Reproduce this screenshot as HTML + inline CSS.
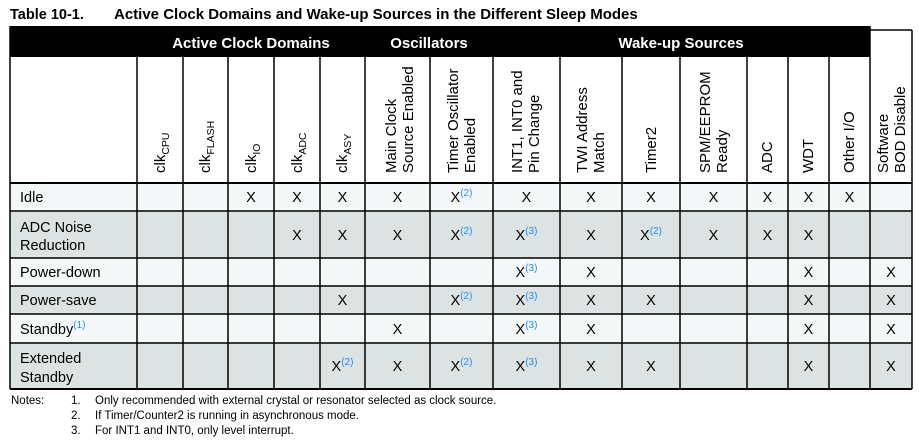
<!DOCTYPE html>
<html><head><meta charset="utf-8"><style>
html,body{margin:0;padding:0;background:#fff;}
svg{display:block;font-family:"Liberation Sans",Arial,sans-serif;}
.h{font-size:15px;fill:#000;}
.c{font-size:14.5px;fill:#000;text-anchor:middle;}
.s{font-size:10px;fill:#1e90ff;}
.l{font-size:14.5px;fill:#000;}
.n{font-size:11.5px;fill:#000;}
</style></head><body>
<svg width="919" height="442" viewBox="0 0 919 442" xmlns="http://www.w3.org/2000/svg">
<text x="10" y="19" font-size="14.5" font-weight="bold">Table 10-1.</text>
<text x="114" y="19" font-size="15" font-weight="bold">Active Clock Domains and Wake-up Sources in the Different Sleep Modes</text>
<rect x="10" y="57" width="902" height="126" fill="#fff"/>
<rect x="10" y="183" width="902" height="28" fill="#f5f8f9"/>
<rect x="10" y="211" width="902" height="47" fill="#dce3e2"/>
<rect x="10" y="258" width="902" height="28" fill="#f5f8f9"/>
<rect x="10" y="286" width="902" height="28" fill="#dce3e2"/>
<rect x="10" y="314" width="902" height="29" fill="#f5f8f9"/>
<rect x="10" y="343" width="902" height="46" fill="#dce3e2"/>
<rect x="10" y="26" width="860" height="31" fill="#000"/>
<text x="251" y="48" font-size="15" font-weight="bold" fill="#fff" text-anchor="middle">Active Clock Domains</text>
<text x="429" y="48" font-size="15" font-weight="bold" fill="#fff" text-anchor="middle">Oscillators</text>
<text x="681" y="48" font-size="15" font-weight="bold" fill="#fff" text-anchor="middle">Wake-up Sources</text>
<g stroke="#000" stroke-width="1.5" fill="none">
<line x1="870" y1="30" x2="912" y2="30"/>
<line x1="912" y1="30" x2="912" y2="389"/>
<line x1="10" y1="26" x2="10" y2="389"/>
<line x1="870" y1="26" x2="870" y2="389"/>
<line x1="10" y1="183" x2="912" y2="183" stroke-width="2"/>
<line x1="10" y1="211" x2="912" y2="211"/>
<line x1="10" y1="258" x2="912" y2="258"/>
<line x1="10" y1="286" x2="912" y2="286"/>
<line x1="10" y1="314" x2="912" y2="314"/>
<line x1="10" y1="343" x2="912" y2="343"/>
<line x1="10" y1="389" x2="912" y2="389" stroke-width="2"/>
<line x1="137" y1="57" x2="137" y2="389"/><line x1="183" y1="57" x2="183" y2="389"/>
<line x1="228" y1="57" x2="228" y2="389"/><line x1="274" y1="57" x2="274" y2="389"/>
<line x1="320" y1="57" x2="320" y2="389"/><line x1="365" y1="57" x2="365" y2="389"/>
<line x1="430" y1="57" x2="430" y2="389"/><line x1="493" y1="57" x2="493" y2="389"/>
<line x1="560" y1="57" x2="560" y2="389"/><line x1="622" y1="57" x2="622" y2="389"/>
<line x1="680" y1="57" x2="680" y2="389"/><line x1="747" y1="57" x2="747" y2="389"/>
<line x1="788" y1="57" x2="788" y2="389"/><line x1="829" y1="57" x2="829" y2="389"/>
</g>
<g class="h">
<text transform="translate(165,173) rotate(-90)">clk<tspan font-size="10.5" dy="4">CPU</tspan></text>
<text transform="translate(210,173) rotate(-90)">clk<tspan font-size="10.5" dy="4">FLASH</tspan></text>
<text transform="translate(256,173) rotate(-90)">clk<tspan font-size="10.5" dy="4">IO</tspan></text>
<text transform="translate(302,173) rotate(-90)">clk<tspan font-size="10.5" dy="4">ADC</tspan></text>
<text transform="translate(347,173) rotate(-90)">clk<tspan font-size="10.5" dy="4">ASY</tspan></text>
<text transform="translate(396,173) rotate(-90)">Main Clock</text>
<text transform="translate(413,173) rotate(-90)">Source Enabled</text>
<text transform="translate(458,173) rotate(-90)">Timer Oscillator</text>
<text transform="translate(475,173) rotate(-90)">Enabled</text>
<text transform="translate(522,173) rotate(-90)">INT1, INT0 and</text>
<text transform="translate(539,173) rotate(-90)">Pin Change</text>
<text transform="translate(587,173) rotate(-90)">TWI Address</text>
<text transform="translate(604,173) rotate(-90)">Match</text>
<text transform="translate(656,173) rotate(-90)">Timer2</text>
<text transform="translate(710,173) rotate(-90)">SPM/EEPROM</text>
<text transform="translate(727,173) rotate(-90)">Ready</text>
<text transform="translate(772,173) rotate(-90)">ADC</text>
<text transform="translate(813,173) rotate(-90)">WDT</text>
<text transform="translate(854,173) rotate(-90)">Other I/O</text>
<text transform="translate(888,173) rotate(-90)">Software</text>
<text transform="translate(905,173) rotate(-90)">BOD Disable</text>
</g>
<g class="l">
<text x="20" y="202">Idle</text>
<text x="20" y="232">ADC Noise</text><text x="20" y="250">Reduction</text>
<text x="20" y="277">Power-down</text>
<text x="20" y="305">Power-save</text>
<text x="20" y="334">Standby<tspan class="s" dy="-6">(1)</tspan></text>
<text x="20" y="363">Extended</text><text x="20" y="382">Standby</text>
</g>
<g class="c">
<text x="251" y="202">X</text><text x="297" y="202">X</text><text x="342.5" y="202">X</text><text x="397.5" y="202">X</text>
<text x="461.5" y="202">X<tspan class="s" dy="-6">(2)</tspan></text>
<text x="526.5" y="202">X</text><text x="591" y="202">X</text><text x="651" y="202">X</text><text x="713.5" y="202">X</text><text x="767.5" y="202">X</text><text x="808.5" y="202">X</text><text x="849.5" y="202">X</text>
<text x="297" y="240">X</text><text x="342.5" y="240">X</text><text x="397.5" y="240">X</text>
<text x="461.5" y="240">X<tspan class="s" dy="-6">(2)</tspan></text>
<text x="526.5" y="240">X<tspan class="s" dy="-6">(3)</tspan></text>
<text x="591" y="240">X</text>
<text x="651" y="240">X<tspan class="s" dy="-6">(2)</tspan></text>
<text x="713.5" y="240">X</text><text x="767.5" y="240">X</text><text x="808.5" y="240">X</text>
<text x="526.5" y="277">X<tspan class="s" dy="-6">(3)</tspan></text>
<text x="591" y="277">X</text><text x="808.5" y="277">X</text><text x="891" y="277">X</text>
<text x="342.5" y="305">X</text>
<text x="461.5" y="305">X<tspan class="s" dy="-6">(2)</tspan></text>
<text x="526.5" y="305">X<tspan class="s" dy="-6">(3)</tspan></text>
<text x="591" y="305">X</text><text x="651" y="305">X</text><text x="808.5" y="305">X</text><text x="891" y="305">X</text>
<text x="397.5" y="334">X</text>
<text x="526.5" y="334">X<tspan class="s" dy="-6">(3)</tspan></text>
<text x="591" y="334">X</text><text x="808.5" y="334">X</text><text x="891" y="334">X</text>
<text x="342.5" y="371">X<tspan class="s" dy="-6">(2)</tspan></text>
<text x="397.5" y="371">X</text>
<text x="461.5" y="371">X<tspan class="s" dy="-6">(2)</tspan></text>
<text x="526.5" y="371">X<tspan class="s" dy="-6">(3)</tspan></text>
<text x="591" y="371">X</text><text x="651" y="371">X</text><text x="808.5" y="371">X</text><text x="891" y="371">X</text>
</g>
<g class="n">
<text x="11" y="404">Notes:</text>
<text x="71" y="404">1.</text><text x="95" y="404">Only recommended with external crystal or resonator selected as clock source.</text>
<text x="71" y="419">2.</text><text x="95" y="419">If Timer/Counter2 is running in asynchronous mode.</text>
<text x="71" y="434">3.</text><text x="95" y="434">For INT1 and INT0, only level interrupt.</text>
</g>
</svg>
</body></html>
